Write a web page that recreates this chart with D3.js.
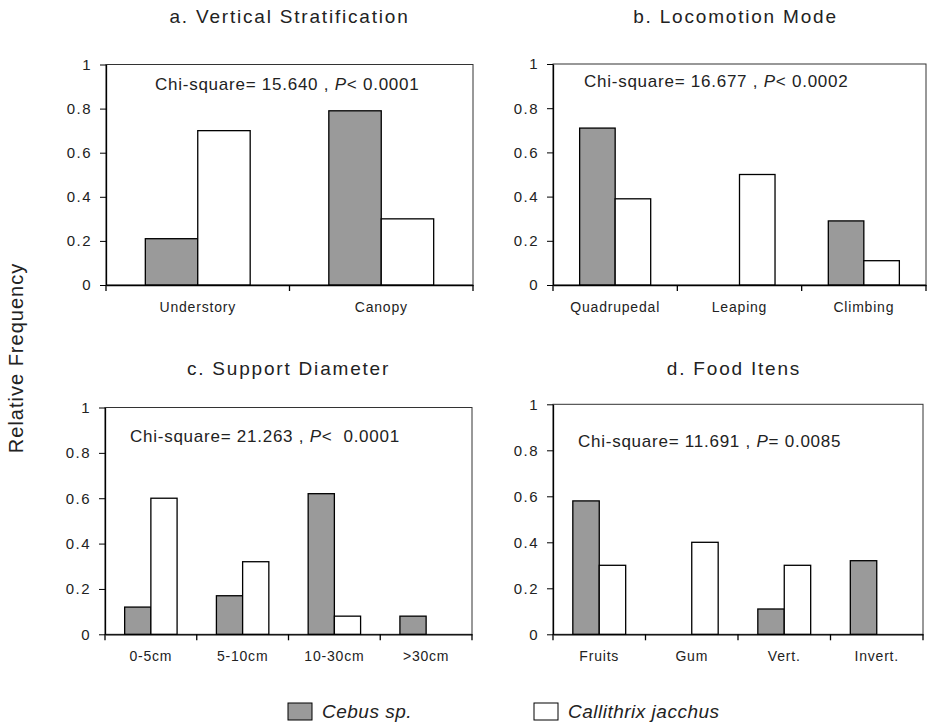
<!DOCTYPE html>
<html>
<head>
<meta charset="utf-8">
<script src="https://cdn.jsdelivr.net/npm/d3@7"></script>
<style>
  body { margin: 0; background: #fff; }
  svg { display: block; font-family: "Liberation Sans", Arial, Helvetica, sans-serif; }
</style>
</head>
<body>
<script>
// data
var stratCats = ["Understory", "Canopy"];
var stratCebus = [0.21, 0.79];
var stratCallithrix = [0.70, 0.30];

var locoCats = ["Quadrupedal", "Leaping", "Climbing"];
var locoCebus = [0.71, 0, 0.29];
var locoCallithrix = [0.39, 0.50, 0.11];

var supportCats = ["0-5cm", "5-10cm", "10-30cm", ">30cm"];
var supportCebus = [0.12, 0.17, 0.62, 0.08];
var supportCallithrix = [0.60, 0.32, 0.08, 0];

var foodCats = ["Fruits", "Gum", "Vert.", "Invert."];
var foodCebus = [0.58, 0, 0.11, 0.32];
var foodCallithrix = [0.30, 0.40, 0.30, 0];

var titles = ["a. Vertical Stratification", "b. Locomotion Mode", "c. Support Diameter", "d. Food Itens"];
var chiText = ["Chi-square= 15.640 , ", "Chi-square= 16.677 , ", "Chi-square= 21.263 , ", "Chi-square= 11.691 , "];
var pText = ["< 0.0001", "< 0.0002", "<  0.0001", "= 0.0085"];
var yTicks = [0, 0.2, 0.4, 0.6, 0.8, 1];
var seriesNames = ["Cebus sp.", "Callithrix jacchus"];
var seriesFill = ["#9a9a9a", "#ffffff"];

// layout of the four panels
var panels = [
  { cats: stratCats, a: stratCebus, b: stratCallithrix, left: 106, right: 473, top: 64.5, bottom: 285, chiX: 49, chiY: 25.5, titleY: 22.5 },
  { cats: locoCats, a: locoCebus, b: locoCallithrix, left: 553, right: 926, top: 64, bottom: 285, chiX: 31, chiY: 22.7, titleY: 22.5 },
  { cats: supportCats, a: supportCebus, b: supportCallithrix, left: 105, right: 472, top: 407.5, bottom: 634.3, chiX: 25, chiY: 34, titleY: 375 },
  { cats: foodCats, a: foodCebus, b: foodCallithrix, left: 553, right: 923, top: 404.3, bottom: 634.3, chiX: 25, chiY: 43, titleY: 375 }
];

var svg = d3.select("body").append("svg")
    .attr("width", 927)
    .attr("height", 725);

panels.forEach(function(p, pi) {
  var g = svg.append("g");

  var x = d3.scaleBand().domain(p.cats).range([p.left, p.right]).padding(0);
  var inner = d3.scaleBand().domain([0, 1]).range([0, x.bandwidth()])
      .paddingInner(0).paddingOuter(0.75);
  var y = d3.scaleLinear().domain([0, 1]).range([p.bottom, p.top]);

  // plot area frame
  g.append("rect")
      .attr("x", p.left).attr("y", p.top)
      .attr("width", p.right - p.left).attr("height", p.bottom - p.top)
      .attr("fill", "none").attr("stroke", "#333").attr("stroke-width", 1);

  var rows = p.cats.map(function(c, i) { return { cat: c, vals: [p.a[i], p.b[i]] }; });

  var grp = g.selectAll(".grp").data(rows).enter().append("g")
      .attr("transform", function(d) { return "translate(" + x(d.cat) + ",0)"; });

  grp.selectAll("rect")
      .data(function(d) { return d.vals.map(function(v, k) { return { k: k, v: v }; }); })
      .enter().filter(function(d) { return d.v > 0; })
      .append("rect")
      .attr("x", function(d) { return inner(d.k); })
      .attr("width", inner.bandwidth())
      .attr("y", function(d) { return y(d.v); })
      .attr("height", function(d) { return y(0) - y(d.v); })
      .attr("fill", function(d) { return seriesFill[d.k]; })
      .attr("stroke", "#000")
      .attr("stroke-width", 1.3);

  // y axis
  var yAxis = d3.axisLeft(y).tickValues(yTicks).tickSize(6).tickSizeOuter(0).tickPadding(8)
      .tickFormat(function(d) { return (d === 0 || d === 1) ? d : d.toFixed(1); });
  var ya = g.append("g").attr("transform", "translate(" + p.left + ",0)").call(yAxis);
  ya.select(".domain").attr("stroke", "#000").attr("stroke-width", 1.3);
  ya.selectAll("line").attr("stroke", "#000");
  ya.selectAll("text").attr("font-size", 15).attr("fill", "#222")
      .attr("letter-spacing", "1.5px")
      .attr("font-family", "Liberation Sans, Arial, sans-serif");

  // x axis: category labels at band centres, ticks at band edges
  var xAxis = d3.axisBottom(x).tickSize(0).tickPadding(17);
  var xa = g.append("g").attr("transform", "translate(0," + p.bottom + ")").call(xAxis);
  xa.select(".domain").attr("stroke", "#000").attr("stroke-width", 1.3);
  xa.selectAll("text").attr("font-size", 14).attr("fill", "#222")
      .attr("letter-spacing", "0.8px")
      .attr("font-family", "Liberation Sans, Arial, sans-serif");

  var edges = p.cats.map(function(c) { return x(c); }).concat([p.right]);
  g.selectAll(".edge").data(edges).enter().append("line")
      .attr("x1", function(d) { return d; }).attr("x2", function(d) { return d; })
      .attr("y1", p.bottom).attr("y2", p.bottom + 6)
      .attr("stroke", "#000").attr("stroke-width", 1.3);

  // panel title
  g.append("text")
      .attr("x", (p.left + p.right) / 2 + (pi % 2 ? -4 : 0))
      .attr("y", p.titleY)
      .attr("text-anchor", "middle")
      .attr("font-size", 19).attr("letter-spacing", "1.8px").attr("fill", "#222")
      .text(titles[pi]);

  // chi-square annotation
  var t = g.append("text")
      .attr("x", p.left + p.chiX).attr("y", p.top + p.chiY)
      .attr("font-size", 17).attr("letter-spacing", "0.75px").attr("fill", "#222")
      .attr("xml:space", "preserve").style("white-space", "pre");
  t.append("tspan").text(chiText[pi]);
  t.append("tspan").attr("font-style", "italic").text("P");
  t.append("tspan").text(pText[pi]);
});

// y axis title
svg.append("text")
    .attr("transform", "translate(23,358) rotate(-90)")
    .attr("text-anchor", "middle")
    .attr("font-size", 20).attr("letter-spacing", "1px").attr("fill", "#222")
    .text("Relative Frequency");

// legend
var legendX = [288, 534];
var lg = svg.selectAll(".legend").data(seriesNames).enter().append("g")
    .attr("transform", function(d, i) { return "translate(" + legendX[i] + ",703)"; });
lg.append("rect")
    .attr("width", 24).attr("height", 17)
    .attr("fill", function(d, i) { return seriesFill[i]; })
    .attr("stroke", "#000").attr("stroke-width", 1);
lg.append("text")
    .attr("x", 34).attr("y", 15)
    .attr("font-size", 19).attr("font-style", "italic").attr("letter-spacing", "0.5px")
    .attr("fill", "#222")
    .text(function(d) { return d; });
</script>
</body>
</html>
